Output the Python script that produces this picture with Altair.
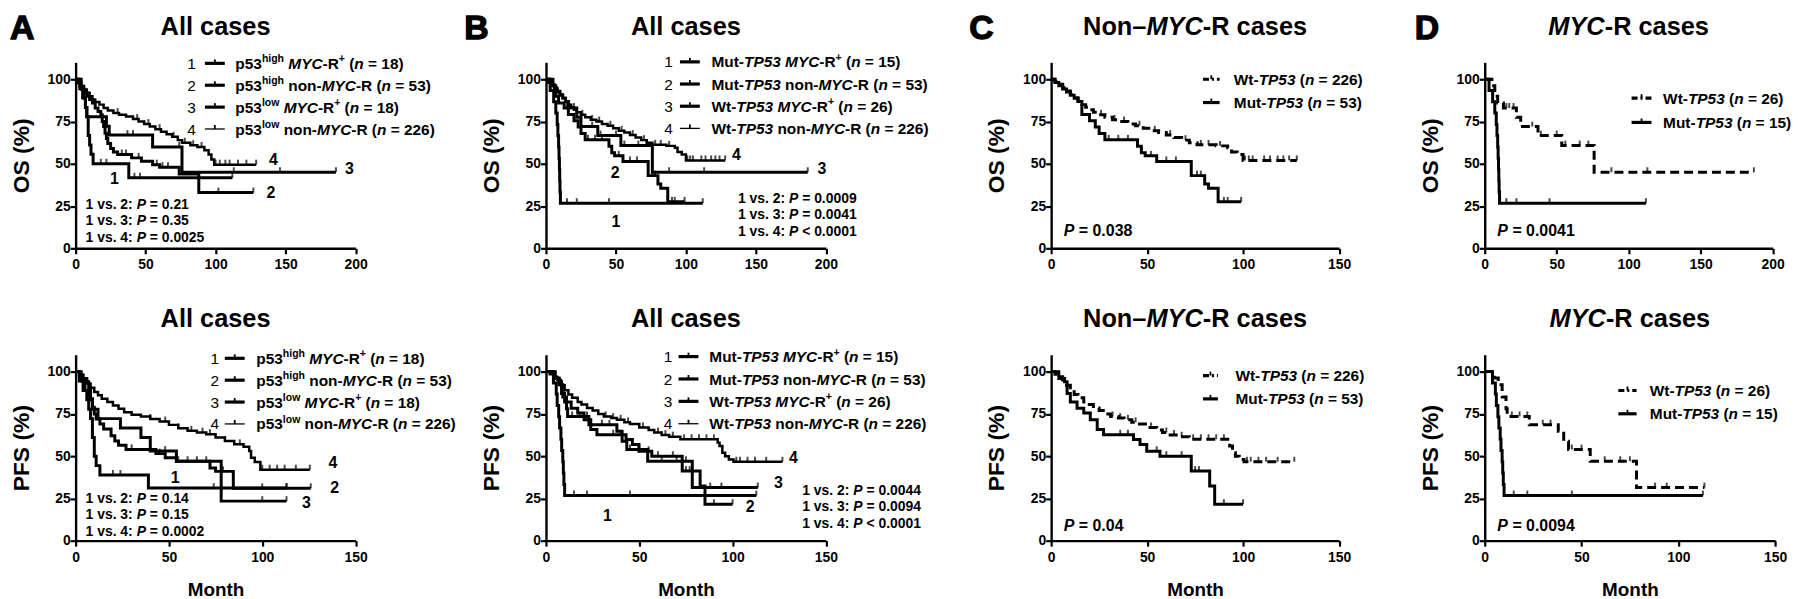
import altair as alt
import pandas as pd

# ======================= DATA =======================
PCT_TICKS = [0, 25, 50, 75, 100]
MONTH_TICKS_200 = [0, 50, 100, 150, 200]
MONTH_TICKS_150 = [0, 50, 100, 150]

# ---- Panel A, OS: p53 expression x MYC-R (step times in months, survival %)
A_OS_1_T = [0, 3, 5, 7, 8, 9, 10, 11, 12.5, 38, 112]
A_OS_1_S = [100, 94.4, 88.9, 83.3, 77.8, 66.7, 61.1, 55.6, 50, 41.7, 41.7]
A_OS_1_C = [18, 22, 42, 46, 112]
A_OS_2_T = [0, 1.5, 3, 4.5, 6, 8, 10, 12, 14, 16, 18, 19, 20, 21, 22, 23, 25, 27, 30, 40, 47, 55, 60, 74, 88, 127]
A_OS_2_S = [100, 98, 96, 94, 92, 90, 88, 86, 83, 81, 79, 75, 72, 68, 65, 62, 59, 57, 55.5, 53.5, 51.5, 49.5, 48, 44, 33, 33]
A_OS_2_C = [33, 36, 45, 58, 62, 66, 102, 127]
A_OS_3_T = [0, 4, 6, 7, 8, 22, 24, 55, 76, 186]
A_OS_3_S = [100, 94.4, 88.9, 83.3, 77.8, 72.2, 67, 60, 45, 45]
A_OS_3_C = [37, 41, 74, 113, 146, 186]
A_OS_4_T = [0, 2, 4, 6, 8, 10, 12, 14, 17, 20, 23, 27, 31, 36, 41, 45, 49, 53, 57, 61, 65, 69, 73, 76, 82, 87, 92, 95, 97, 99, 129]
A_OS_4_S = [100, 98, 96, 94, 92, 90, 88, 86.5, 85, 83, 81.5, 80, 79, 78, 76.5, 75, 73.5, 72, 70.5, 69, 67.5, 66, 64, 62.5, 61, 60, 58, 55.5, 52.5, 49.5, 49.5]
A_OS_4_C = [30, 44, 52, 60, 70, 78, 84, 90, 100, 103, 107, 110, 116, 122, 129]

# ---- Panel A, PFS
A_PFS_1_T = [0, 2, 4, 6, 7, 8, 9, 10, 11, 13, 39, 113]
A_PFS_1_S = [100, 94.4, 88.9, 83.3, 77.8, 72.2, 61.1, 50, 44.4, 38.9, 31.1, 31.1]
A_PFS_1_C = [20, 24, 74, 113]
A_PFS_2_T = [0, 2, 4, 6, 7, 8, 9, 10, 11, 13, 15, 19, 21, 23, 27, 43, 48, 54, 72, 75, 84.5, 126]
A_PFS_2_S = [100, 98, 96, 94, 90, 84, 79, 75, 72, 69, 66, 62, 59, 56.5, 54, 51.5, 49, 47, 43, 41, 31, 31]
A_PFS_2_C = [30, 40, 45, 55, 60, 65, 70, 79, 100, 113, 126]
A_PFS_3_T = [0, 3, 5, 7, 9, 12, 24, 35, 40, 54, 78, 113]
A_PFS_3_S = [100, 94.4, 88.9, 83.3, 77.8, 72.2, 66.7, 61.1, 53, 47, 23.4, 23.4]
A_PFS_3_C = [48, 100, 113]
A_PFS_4_T = [0, 2, 4, 6, 8, 10, 12, 14, 17, 20, 23, 26, 30, 35, 40, 45, 50, 55, 60, 65, 70, 75, 80, 85, 90, 93, 94, 96, 99, 125.5]
A_PFS_4_S = [100, 98, 95.5, 93, 90.5, 88, 86, 84, 82, 80, 78, 76, 74.5, 73.5, 72, 70.5, 68.5, 66.5, 65, 64, 63, 61, 59, 57, 55.5, 53, 49, 46.5, 42, 42]
A_PFS_4_C = [40, 48, 55, 62, 68, 72, 80, 88, 100, 104, 108, 112, 118, 125.5]

# ---- TP53 status x MYC-R, OS (used in panels B, C, D)
OS_MUT_MYC_T = [0, 3, 5.5, 7, 8, 8.5, 9, 9.3, 9.6, 9.8, 10, 10.3, 112]
OS_MUT_MYC_S = [100, 93.3, 86.7, 80, 73.3, 66.7, 60, 53.3, 46.7, 40, 33.3, 26.7, 26.7]
OS_MUT_MYC_C = [15, 22, 45, 112]
OS_MUT_NON_T = [0, 2, 4, 6, 8, 10, 12, 14, 16, 20, 23, 25, 28, 45, 47, 49, 55, 73, 80, 82, 87, 99]
OS_MUT_NON_S = [100, 98.1, 96.2, 94.3, 92.5, 90.6, 88.7, 86.8, 79.2, 75.5, 71.7, 67.9, 64.2, 60.4, 56.6, 54.7, 51.4, 43, 38, 35.5, 27.5, 27.5]
OS_MUT_NON_C = [30, 35, 40, 52, 60, 65, 76, 78, 90, 92, 99]
OS_WT_MYC_T = [0, 5, 7, 9, 13, 22, 25, 37, 53.5, 76, 187]
OS_WT_MYC_S = [100, 96.2, 90, 86, 83, 77.5, 72, 66.7, 60.8, 45, 45]
OS_WT_MYC_C = [15, 17, 20, 33, 39, 50, 56, 66, 72, 88, 113, 187]
OS_WT_NON_T = [0, 2, 4, 6, 8, 10, 12, 14, 16, 18, 20, 22, 25, 28, 32, 36, 40, 44, 48, 52, 56, 60, 64, 68, 72, 76, 86, 92, 94, 97, 100, 128]
OS_WT_NON_S = [100, 98.5, 97, 95, 93, 91, 89, 87, 85, 83.5, 82, 80.5, 79, 77.5, 76, 75, 73.5, 72.5, 71, 69.5, 68.5, 67, 65.5, 64, 62.5, 61.2, 60.6, 59.5, 57, 55.5, 52, 52]
OS_WT_NON_C = [26, 33, 38, 46, 54, 62, 70, 78, 82, 88, 101, 103, 105, 111, 114, 118, 121, 124, 128]

# ---- TP53 status x MYC-R, PFS
PFS_MUT_MYC_T = [0, 4, 5.5, 6, 6.8, 7.3, 8, 8.4, 9, 9.3, 9.6, 10, 112.7]
PFS_MUT_MYC_S = [100, 93.3, 86.7, 80, 73.3, 66.7, 60, 53.3, 46.7, 40, 33.3, 26.7, 26.7]
PFS_MUT_MYC_C = [15, 22, 45, 112.7]
PFS_MUT_NON_T = [0, 4, 7, 8.3, 10, 13.5, 17, 20.4, 24, 27.3, 42.9, 46.3, 49.8, 56.7, 73, 82.6, 85.2, 100]
PFS_MUT_NON_S = [100, 96, 94, 87, 82, 78.4, 75.5, 71.6, 65.7, 62.7, 59.8, 56.9, 52.9, 50, 41.2, 32.4, 21.6, 21.6]
PFS_MUT_NON_C = [36, 40, 55, 60, 68, 75, 77, 90, 100]
PFS_WT_MYC_T = [0, 5, 7, 9, 11, 11.6, 23, 38, 40.8, 43.3, 54.5, 78.4, 113.5]
PFS_WT_MYC_S = [100, 96.2, 92.3, 85, 78, 73.5, 68.6, 64.7, 58.8, 53.9, 47, 31.4, 31.4]
PFS_WT_MYC_C = [14, 18, 22, 30, 34, 45, 50, 62, 70, 75, 88, 94, 113.5]
PFS_WT_NON_T = [0, 2, 4, 6, 8, 10, 12, 14, 17, 19, 22, 25, 28, 31, 35, 38, 42, 45, 50, 55, 58, 62, 66, 72, 92, 93, 94.5, 96, 98, 100.5, 126.7]
PFS_WT_NON_S = [100, 98.5, 97, 95, 92, 89, 86.5, 84.5, 82, 80.5, 78.5, 77, 75, 73.5, 72.5, 71.5, 70, 69, 67, 65.5, 64, 62.5, 61.5, 60, 58, 56, 52, 50, 48, 46.7, 46.7]
PFS_WT_NON_C = [32, 36, 40, 44, 52, 60, 64, 68, 74, 78, 82, 86, 90, 102, 104, 108, 112, 118, 126.7]

# ---- curve number labels (month, %)
A_OS_LABELS = [("1", 27.7, 41.2), ("2", 139.6, 32.7), ("3", 195.7, 47), ("4", 141.3, 52)]
A_PFS_LABELS = [("1", 53.4, 37.1), ("2", 138.8, 31.3), ("3", 123.7, 22.5), ("4", 137.9, 45.9)]
B_OS_LABELS = [("1", 50, 15.7), ("2", 49.5, 44.5), ("3", 197.2, 47), ("4", 136, 55)]
B_PFS_LABELS = [("1", 32.9, 14.6), ("2", 109.4, 19.9), ("3", 124.6, 34.2), ("4", 132.6, 48.8)]

# ---- texts: (segment, kind)  b = bold, i = bold italic, s = superscript
A_GROUPS = [
    [("p53", "b"), ("high", "s"), (" ", "b"), ("MYC", "i"), ("-R", "b"), ("+", "s"), (" (", "b"), ("n", "i"), (" = 18)", "b")],
    [("p53", "b"), ("high", "s"), (" non-", "b"), ("MYC", "i"), ("-R (", "b"), ("n", "i"), (" = 53)", "b")],
    [("p53", "b"), ("low", "s"), (" ", "b"), ("MYC", "i"), ("-R", "b"), ("+", "s"), (" (", "b"), ("n", "i"), (" = 18)", "b")],
    [("p53", "b"), ("low", "s"), (" non-", "b"), ("MYC", "i"), ("-R (", "b"), ("n", "i"), (" = 226)", "b")],
]
B_GROUPS = [
    [("Mut-", "b"), ("TP53", "i"), (" ", "b"), ("MYC", "i"), ("-R", "b"), ("+", "s"), (" (", "b"), ("n", "i"), (" = 15)", "b")],
    [("Mut-", "b"), ("TP53", "i"), (" non-", "b"), ("MYC", "i"), ("-R (", "b"), ("n", "i"), (" = 53)", "b")],
    [("Wt-", "b"), ("TP53", "i"), (" ", "b"), ("MYC", "i"), ("-R", "b"), ("+", "s"), (" (", "b"), ("n", "i"), (" = 26)", "b")],
    [("Wt-", "b"), ("TP53", "i"), (" non-", "b"), ("MYC", "i"), ("-R (", "b"), ("n", "i"), (" = 226)", "b")],
]
C_GROUPS = [
    [("Wt-", "b"), ("TP53", "i"), (" (", "b"), ("n", "i"), (" = 226)", "b")],
    [("Mut-", "b"), ("TP53", "i"), (" (", "b"), ("n", "i"), (" = 53)", "b")],
]
D_GROUPS = [
    [("Wt-", "b"), ("TP53", "i"), (" (", "b"), ("n", "i"), (" = 26)", "b")],
    [("Mut-", "b"), ("TP53", "i"), (" (", "b"), ("n", "i"), (" = 15)", "b")],
]
A_OS_P = ["0.21", "0.35", "0.0025"]
A_PFS_P = ["0.14", "0.15", "0.0002"]
B_OS_P = ["= 0.0009", "= 0.0041", "< 0.0001"]
B_PFS_P = ["= 0.0044", "= 0.0094", "< 0.0001"]
C_OS_P, C_PFS_P, D_OS_P, D_PFS_P = "0.038", "0.04", "0.0041", "0.0094"
TITLE_ALL = [("All cases", "b")]
TITLE_NON = [("Non–", "b"), ("MYC", "i"), ("-R cases", "b")]
TITLE_MYC = [("MYC", "i"), ("-R cases", "b")]

# ======================= helpers =======================
FONT = "Liberation Sans"
AW = {" ": 278, "(": 333, ")": 333, "+": 584, ",": 278, "-": 333, ".": 278, ":": 333,
      "<": 584, "=": 584, "%": 889, "–": 556}
for d in "0123456789":
    AW[d] = 556
AW.update(dict(zip("ABCDEFGHIJKLMNOPQRSTUVWXYZ",
                   [722, 722, 722, 722, 667, 611, 778, 722, 278, 556, 722, 611, 833, 722, 778, 667, 778,
                    722, 667, 611, 722, 667, 944, 667, 667, 611])))
AW.update(dict(zip("abcdefghijklmnopqrstuvwxyz",
                   [556, 611, 556, 611, 556, 333, 611, 611, 278, 278, 556, 278, 889, 611, 611, 611, 611,
                    389, 556, 333, 611, 556, 778, 556, 556, 500])))


def tw(s, fs):
    return sum(AW.get(ch, 556) for ch in s) * fs / 1000.0


def step_at(T, S, t):
    v = S[0]
    for ti, si in zip(T, S):
        if ti <= t:
            v = si
    return v


def seg_width(segs, fs):
    return sum(tw(t, fs * 0.68 if k == "s" else fs) for t, k in segs)


def put_segs(out, x, y, segs, fs):
    for txt, kind in segs:
        f = fs * 0.68 if kind == "s" else fs
        yy = y - fs * 0.42 if kind == "s" else y
        lead = len(txt) - len(txt.lstrip(" "))
        core = txt.strip(" ")
        if core:
            out.append({"x": x + tw(" " * lead, f), "y": yy, "text": core, "fs": f,
                        "st": "bi" if kind == "i" else "b"})
        x += tw(txt, f)
    return x


def text_layers(items):
    df = pd.DataFrame(items)
    styles = {"b": dict(fontWeight="bold", fontStyle="normal"),
              "bi": dict(fontWeight="bold", fontStyle="italic"),
              "n": dict(fontWeight="normal", fontStyle="normal"),
              "L": dict(fontWeight="bold", fontStyle="normal", stroke="black", strokeWidth=1.3)}
    layers = []
    for st, props in styles.items():
        sub = df[df["st"] == st]
        if len(sub) == 0:
            continue
        layers.append(alt.Chart(sub).mark_text(align="left", baseline="alphabetic", font=FONT,
                                               color="black", **props).encode(
            x=alt.X("x:Q", scale=None),
            y=alt.Y("y:Q", scale=None),
            text="text:N",
            size=alt.Size("fs:Q", scale=None, legend=None)))
    return layers


def rule_layers(rules):
    groups = {}
    for r in rules:
        groups.setdefault((r["w"], tuple(r["dash"]) if r["dash"] else ()), []).append(r)
    layers = []
    for (w, dash), rs in groups.items():
        df = pd.DataFrame([{k: r[k] for k in ("x", "x2", "y", "y2")} for r in rs])
        mk = dict(color="black", strokeWidth=w)
        if dash:
            mk["strokeDash"] = list(dash)
        layers.append(alt.Chart(df).mark_rule(**mk).encode(
            x=alt.X("x:Q", scale=None), x2="x2:Q",
            y=alt.Y("y:Q", scale=None), y2="y2:Q"))
    return layers


H = 187
LEG_FS = 15.5


def legend(items, rules, groups, y0, dy, line_x, text_x, widths, dashes, num_x=None):
    for i, segs in enumerate(groups):
        yc = y0 + i * dy
        if num_x is not None:
            items.append({"x": num_x, "y": yc + 0.36 * LEG_FS, "text": str(i + 1), "fs": LEG_FS, "st": "n"})
        rules.append({"x": line_x[0], "x2": line_x[1], "y": yc, "y2": yc, "w": widths[i], "dash": dashes[i]})
        xm = (line_x[0] + line_x[1]) / 2
        rules.append({"x": xm, "x2": xm, "y": yc - 4, "y2": yc, "w": 1.8, "dash": None})
        put_segs(items, text_x, yc + 0.36 * LEG_FS, segs, LEG_FS)


def make_panel(curves, labels, pw, vw, xmax, xticks, ytitle, xtitle, items, rules):
    xs = alt.Scale(domain=[0, xmax], range=[0, pw], nice=False, zero=False)
    ys = alt.Scale(domain=[0, 110], nice=False, zero=False)
    xax = alt.Axis(values=xticks, title=xtitle, format="d")
    yax = alt.Axis(values=PCT_TICKS, title=ytitle, format="d")
    X = lambda: alt.X("t:Q", scale=xs, axis=xax)
    Y = lambda: alt.Y("s:Q", scale=ys, axis=yax)
    layers = []
    for T, S, C, w, dash in curves:
        mk = dict(interpolate="step-after", color="black", strokeWidth=w)
        if dash:
            mk["strokeDash"] = dash
        layers.append(alt.Chart(pd.DataFrame({"t": T, "s": S})).mark_line(**mk).encode(x=X(), y=Y()))
        cdf = pd.DataFrame({"t": C, "s": [step_at(T, S, c) for c in C]})
        layers.append(alt.Chart(cdf).mark_tick(orient="vertical", size=5, thickness=2,
                                               color="black", yOffset=-2.5).encode(x=X(), y=Y()))
    if labels:
        ldf = pd.DataFrame(labels, columns=["lab", "t", "s"])
        layers.append(alt.Chart(ldf).mark_text(font=FONT, fontWeight="bold", fontSize=16, color="black",
                                               align="center", baseline="middle").encode(
            x=X(), y=Y(), text="lab:N"))
    layers += rule_layers(rules)
    layers += text_layers(items)
    return alt.layer(*layers).properties(width=vw, height=H)


def title_items(items, segs, cx, letter=None, letter_x=0):
    fs = 25.5
    x0 = cx - seg_width(segs, fs) / 2
    put_segs(items, x0, -28, segs, fs)
    if letter:
        items.append({"x": letter_x, "y": -23, "text": letter, "fs": 34, "st": "L"})


def pval_lines(items, x, ys, vals, sep):
    fs = 14
    for i, (yb, v) in enumerate(zip(ys, vals)):
        put_segs(items, x, yb, [("1 vs. %d: " % (i + 2), "b"), ("P", "i"), ((" = " if sep else " ") + v, "b")], fs)


THICK, THIN = 3.0, 2.5
DASH = [9, 5]
LDASH = [6, 3, 2, 3]
VW = [472.5, 508, 435.5, 292]

units = []

# ---------------- A top
it, ru = [], []
title_items(it, TITLE_ALL, 281.5 / 2, "A", -66)
legend(it, ru, A_GROUPS, 1, 22, (130, 150), 160.6, [3.2, 3.2, 3.2, 1.3], [None] * 4, num_x=112.3)
pval_lines(it, 10, [147, 164, 181], A_OS_P, True)
units.append(make_panel([(A_OS_1_T, A_OS_1_S, A_OS_1_C, THICK, None),
                         (A_OS_2_T, A_OS_2_S, A_OS_2_C, THICK, None),
                         (A_OS_3_T, A_OS_3_S, A_OS_3_C, THICK, None),
                         (A_OS_4_T, A_OS_4_S, A_OS_4_C, THIN, None)],
                        A_OS_LABELS, 281.5, VW[0], 200, MONTH_TICKS_200, "OS (%)", None, it, ru))

# ---------------- B top
it, ru = [], []
title_items(it, TITLE_ALL, 281.5 / 2, "B", -82.3)
legend(it, ru, B_GROUPS, -0.5, 22.3, (134.7, 154.7), 166.4, [3.2, 3.2, 3.2, 1.3], [None] * 4, num_x=119)
pval_lines(it, 193, [141, 157.7, 174.4], B_OS_P, False)
units.append(make_panel([(OS_MUT_MYC_T, OS_MUT_MYC_S, OS_MUT_MYC_C, THICK, None),
                         (OS_MUT_NON_T, OS_MUT_NON_S, OS_MUT_NON_C, THICK, None),
                         (OS_WT_MYC_T, OS_WT_MYC_S, OS_WT_MYC_C, THICK, None),
                         (OS_WT_NON_T, OS_WT_NON_S, OS_WT_NON_C, THIN, None)],
                        B_OS_LABELS, 281.5, VW[1], 200, MONTH_TICKS_200, "OS (%)", None, it, ru))

# ---------------- C top
it, ru = [], []
title_items(it, TITLE_NON, 289.5 / 2, "C", -82.3)
legend(it, ru, C_GROUPS, 17, 23.4, (152.7, 169.4), 183.7, [3.2, 3.2], [LDASH, None])
put_segs(it, 12.7, 174.4, [("P", "i"), (" = " + C_OS_P, "b")], 16)
units.append(make_panel([(OS_WT_NON_T, OS_WT_NON_S, OS_WT_NON_C, THICK, DASH),
                         (OS_MUT_NON_T, OS_MUT_NON_S, OS_MUT_NON_C, THICK, None)],
                        None, 289.5, VW[2], 150, MONTH_TICKS_150, "OS (%)", None, it, ru))

# ---------------- D top
it, ru = [], []
title_items(it, TITLE_MYC, 289.5 / 2, "D", -70.3)
legend(it, ru, D_GROUPS, 36, 24.4, (147.7, 167.7), 179.4, [3.2, 3.2], [LDASH, None])
put_segs(it, 12.7, 174.4, [("P", "i"), (" = " + D_OS_P, "b")], 16)
units.append(make_panel([(OS_WT_MYC_T, OS_WT_MYC_S, OS_WT_MYC_C, THICK, DASH),
                         (OS_MUT_MYC_T, OS_MUT_MYC_S, OS_MUT_MYC_C, THICK, None)],
                        None, 289.5, VW[3], 200, MONTH_TICKS_200, "OS (%)", None, it, ru))

# ---------------- A bottom
it, ru = [], []
title_items(it, TITLE_ALL, 281.5 / 2)
legend(it, ru, A_GROUPS, 3.6, 22, (150, 170), 181.7, [3.2, 3.2, 3.2, 1.3], [None] * 4, num_x=135.7)
pval_lines(it, 10, [149.4, 165.6, 182], A_PFS_P, True)
units.append(make_panel([(A_PFS_1_T, A_PFS_1_S, A_PFS_1_C, THICK, None),
                         (A_PFS_2_T, A_PFS_2_S, A_PFS_2_C, THICK, None),
                         (A_PFS_3_T, A_PFS_3_S, A_PFS_3_C, THICK, None),
                         (A_PFS_4_T, A_PFS_4_S, A_PFS_4_C, THIN, None)],
                        A_PFS_LABELS, 281.5, VW[0], 150, MONTH_TICKS_150, "PFS (%)", "Month", it, ru))

# ---------------- B bottom
it, ru = [], []
title_items(it, TITLE_ALL, 281.5 / 2)
legend(it, ru, B_GROUPS, 1.9, 22.5, (133.3, 153.3), 164.3, [3.2, 3.2, 3.2, 1.3], [None] * 4, num_x=118.3)
pval_lines(it, 257.7, [140.8, 157.6, 174.5], B_PFS_P, False)
units.append(make_panel([(PFS_MUT_MYC_T, PFS_MUT_MYC_S, PFS_MUT_MYC_C, THICK, None),
                         (PFS_MUT_NON_T, PFS_MUT_NON_S, PFS_MUT_NON_C, THICK, None),
                         (PFS_WT_MYC_T, PFS_WT_MYC_S, PFS_WT_MYC_C, THICK, None),
                         (PFS_WT_NON_T, PFS_WT_NON_S, PFS_WT_NON_C, THIN, None)],
                        B_PFS_LABELS, 281.5, VW[1], 150, MONTH_TICKS_150, "PFS (%)", "Month", it, ru))

# ---------------- C bottom
it, ru = [], []
title_items(it, TITLE_NON, 289.5 / 2)
legend(it, ru, C_GROUPS, 21, 23.4, (152.7, 167.7), 185.3, [3.2, 3.2], [LDASH, None])
put_segs(it, 12.7, 176.8, [("P", "i"), (" = " + C_PFS_P, "b")], 16)
units.append(make_panel([(PFS_WT_NON_T, PFS_WT_NON_S, PFS_WT_NON_C, THICK, DASH),
                         (PFS_MUT_NON_T, PFS_MUT_NON_S, PFS_MUT_NON_C, THICK, None)],
                        None, 289.5, VW[2], 150, MONTH_TICKS_150, "PFS (%)", "Month", it, ru))

# ---------------- D bottom
it, ru = [], []
title_items(it, TITLE_MYC, 292 / 2)
legend(it, ru, D_GROUPS, 36, 23.4, (134.4, 152.7), 166, [3.2, 3.2], [LDASH, None])
put_segs(it, 12.7, 176.8, [("P", "i"), (" = " + D_PFS_P, "b")], 16)
units.append(make_panel([(PFS_WT_MYC_T, PFS_WT_MYC_S, PFS_WT_MYC_C, THICK, DASH),
                         (PFS_MUT_MYC_T, PFS_MUT_MYC_S, PFS_MUT_MYC_C, THICK, None)],
                        None, 292, VW[3], 150, MONTH_TICKS_150, "PFS (%)", "Month", it, ru))

chart = alt.concat(*units, columns=4, spacing={"row": 107, "column": 0}, bounds="flush",
                   padding={"left": 2, "top": 3, "right": 0, "bottom": 0}).configure(
    font=FONT).configure_view(stroke=None).configure_axis(
    grid=False, domainColor="black", domainWidth=2.4, tickColor="black", tickWidth=2.2, tickSize=5.5,
    labelFont=FONT, labelFontSize=14, labelFontWeight="bold", labelColor="black",
    titleFont=FONT, titleFontWeight="bold", titleColor="black").configure_axisX(
    labelPadding=4, titleFontSize=19, titlePadding=17, labelOverlap=False, labelFlush=False).configure_axisY(
    labelPadding=0, titleFontSize=23, titlePadding=14, labelOverlap=False)

chart.save("out.html", embed_options={"renderer": "svg", "actions": False})
